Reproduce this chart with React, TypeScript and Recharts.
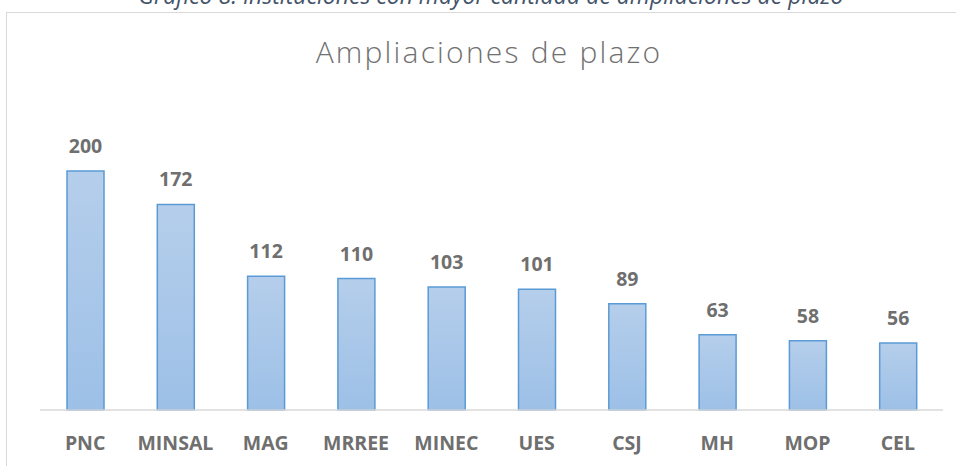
import React from 'react';
import { BarChart, Bar, XAxis, YAxis, LabelList } from 'recharts';

const categories = ['PNC', 'MINSAL', 'MAG', 'MRREE', 'MINEC', 'UES', 'CSJ', 'MH', 'MOP', 'CEL'];
const values = [200, 172, 112, 110, 103, 101, 89, 63, 58, 56];
const chartTitle = 'Ampliaciones de plazo';
const caption = 'Gráfico 8. Instituciones con mayor cantidad de ampliaciones de plazo';

const data = categories.map((name, i) => ({ name, value: values[i] }));

export default function App() {
  return (
    <div style={{ position: 'absolute', left: 0, top: 0, width: 956, height: 466, overflow: 'hidden', background: '#fff' }}>
      <div
        style={{
          position: 'absolute',
          left: 6,
          top: 12,
          width: 1000,
          height: 600,
          border: '1.5px solid #D9D9D9',
          boxSizing: 'border-box',
        }}
      />
      <svg style={{ position: 'absolute', left: 0, top: 0 }} width={956} height={20}>
        <text x={491} y={3.5} textAnchor="middle" fontFamily="Open Sans" fontStyle="italic" fontSize={23} fill="#44546A">
          {caption}
        </text>
      </svg>
      <div style={{ position: 'absolute', left: 0, top: 0 }}>
        <BarChart width={956} height={466} data={data} margin={{ top: 171, right: 13, left: 40, bottom: 26 }} barCategoryGap={0}>
          <defs>
            <linearGradient id="barGrad" x1="0" y1="0" x2="0" y2="1">
              <stop offset="0%" stopColor="#B5CEEB" />
              <stop offset="100%" stopColor="#9DC0E7" />
            </linearGradient>
          </defs>
          <text x={489} y={63} textAnchor="middle" fontFamily="Open Sans" fontWeight={300} fontSize={30} letterSpacing={2.2} fill="#707070">
            {chartTitle}
          </text>
          <YAxis hide domain={[0, 200]} />
          <XAxis
            dataKey="name"
            axisLine={{ stroke: '#D9D9D9', strokeWidth: 1.5 }}
            tickLine={false}
            tickSize={0}
            tickMargin={26}
            interval={0}
            tick={{ fontFamily: 'Open Sans', fontWeight: 700, fontSize: 19.5, fill: '#6F6F6F' }}
          />
          <Bar dataKey="value" fill="url(#barGrad)" stroke="#5B9BD5" strokeWidth={1.5} barSize={37} isAnimationActive={false}>
            <LabelList
              dataKey="value"
              position="top"
              offset={18}
              style={{ fontFamily: 'Open Sans', fontWeight: 700, fontSize: 19.5, fill: '#6F6F6F' }}
            />
          </Bar>
        </BarChart>
      </div>
    </div>
  );
}
